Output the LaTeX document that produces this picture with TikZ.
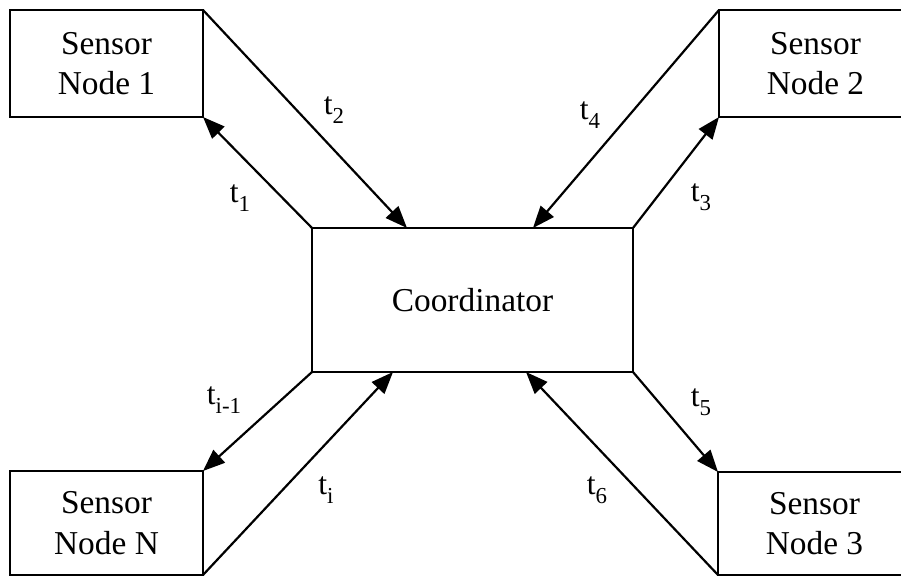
\documentclass[tikz,border=0pt]{standalone}
\usepackage{fontspec}
\setmainfont{Liberation Serif}
\usetikzlibrary{arrows.meta,positioning}
\newcommand{\tsub}[1]{t\raisebox{-0.28em}{\fontsize{13}{15}\selectfont #1}}
\tikzset{
  box/.style={
    draw,
    line width=1.25pt,
    inner sep=0pt,
    outer sep=0pt,
    align=center,
    font=\fontsize{19}{23}\selectfont
  },
  sensor/.style={
    box,
    minimum width=3.86cm,
    minimum height=2.14cm
  },
  link/.style={
    line width=1.25pt,
    -{Triangle[length=0.44cm,width=0.34cm]}
  },
  tlabel/.style={
    inner sep=1pt,
    font=\fontsize{18}{20}\selectfont
  }
}
\begin{document}
\begin{tikzpicture}[x=0.02cm,y=-0.02cm]
    \useasboundingbox (0,0) rectangle (901,577);
    \node[sensor] (s1) at (106.5,63.5) {Sensor\\Node 1};
    \node[sensor] (s2) at (815.5,63.5) {Sensor\\Node 2};
    \node[sensor, minimum height=2.08cm] (sN) at (106.5,523) {Sensor\\Node N};
    \node[sensor, minimum height=2.06cm] (s3) at (814.5,523.5) {Sensor\\Node 3};
    \node[box, minimum width=6.42cm, minimum height=2.88cm] (coord) at (472.5,300) {Coordinator};
    \draw[link] (coord.north west) -- (s1.south east);
    \draw[link] (s1.north east) -- ([xshift=1.9cm]coord.north west);
    \draw[link] (coord.north east) -- (s2.south west);
    \draw[link] (s2.north west) -- ([xshift=-2cm]coord.north east);
    \draw[link] (coord.south east) -- (s3.north west);
    \draw[link] (s3.south west) -- ([xshift=-2.14cm]coord.south east);
    \draw[link] (coord.south west) -- (sN.north east);
    \draw[link] (sN.south east) -- ([xshift=1.62cm]coord.south west);
    \node[tlabel] (l1) at (240,198) {\tsub{1}};
    \node[tlabel] (l2) at (334,110) {\tsub{2}};
    \node[tlabel] (l3) at (701,197) {\tsub{3}};
    \node[tlabel] (l4) at (590,115) {\tsub{4}};
    \node[tlabel] (l5) at (701,402) {\tsub{5}};
    \node[tlabel] (l6) at (597,490) {\tsub{6}};
    \node[tlabel] (li1) at (224,400) {\tsub{i-1}};
    \node[tlabel] (li) at (326,490) {\tsub{i}};
\end{tikzpicture}
\end{document}
